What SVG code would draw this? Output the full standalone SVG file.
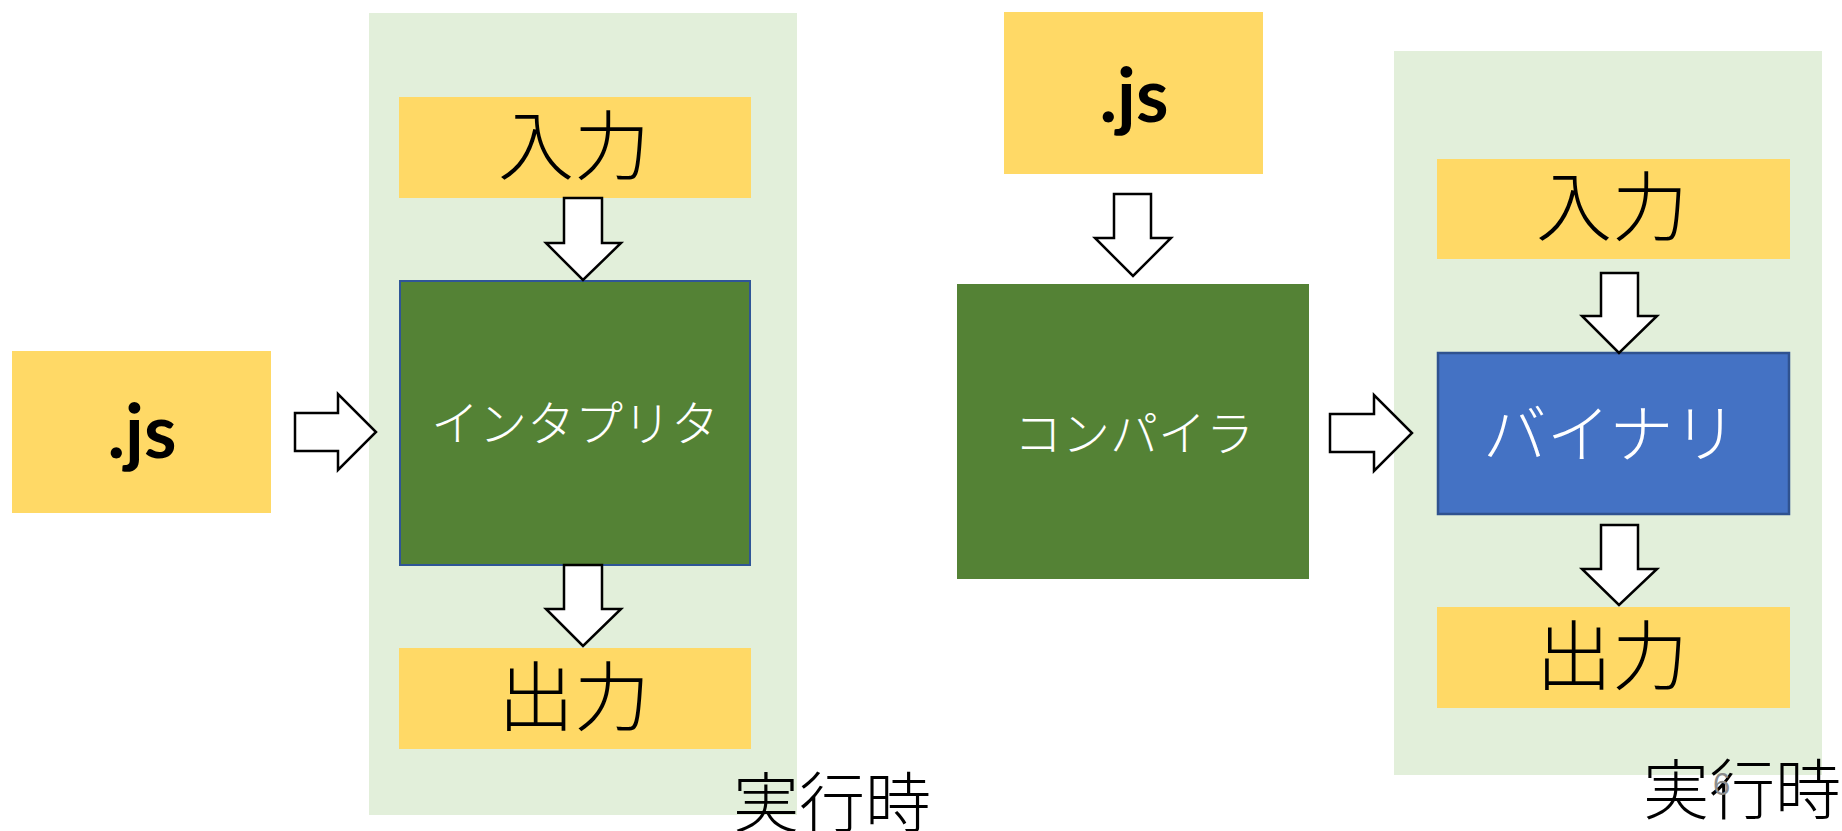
<svg xmlns="http://www.w3.org/2000/svg" width="1842" height="831" viewBox="0 0 1842 831">
<style>
.bg{fill:#E2EFDA}
.y{fill:#FFD966}
.g{fill:#548235}
.gi{fill:#548235;stroke:#2F5597;stroke-width:2}
.b{fill:#4472C4;stroke:#2F528F;stroke-width:2.5}
.arr{fill:#FFFFFF;stroke:#000000;stroke-width:2.5;stroke-linejoin:miter}
.jp{font-family:"Noto Sans CJK JP","Noto Sans CJK SC",sans-serif;font-weight:300;dominant-baseline:central;text-anchor:middle}
.js{font-family:"Lato","Noto Sans",sans-serif;font-weight:700;font-size:74px;text-anchor:middle;fill:#000}
.blk{fill:#000}
.wht{fill:#FFF}
</style>
<rect width="1842" height="831" fill="#FFFFFF"/>
<g id="runtime-left"><rect class="bg" x="369" y="13" width="428" height="802"/></g>
<g id="runtime-right"><rect class="bg" x="1394" y="51" width="428" height="724"/></g>
<g id="js-left"><rect class="y" x="12" y="351" width="259" height="162"/><text class="js" x="142" y="458">.js</text></g>
<g id="input-left"><rect class="y" x="399" y="97" width="352" height="101"/><text class="jp blk" x="574" y="141" font-size="76">入力</text></g>
<g id="interpreter"><rect class="gi" x="400" y="281" width="350" height="284"/><text class="jp wht" x="575" y="420" font-size="48">インタプリタ</text></g>
<g id="output-left"><rect class="y" x="399" y="648" width="352" height="101"/><text class="jp blk" x="574" y="692" font-size="76">出力</text></g>
<g id="label-left"><text class="jp blk" x="733" y="798" font-size="66" style="text-anchor:start">実行時</text></g>
<g id="js-right"><rect class="y" x="1004" y="12" width="259" height="162"/><text class="js" x="1134" y="122">.js</text></g>
<g id="compiler"><rect class="g" x="957" y="284" width="352" height="295"/><text class="jp wht" x="1134" y="430" font-size="48">コンパイラ</text></g>
<g id="input-right"><rect class="y" x="1437" y="159" width="353" height="100"/><text class="jp blk" x="1612" y="202" font-size="76">入力</text></g>
<g id="binary"><rect class="b" x="1438" y="353" width="351" height="161"/><text class="jp wht" x="1610" y="429" font-size="64">バイナリ</text></g>
<g id="output-right"><rect class="y" x="1437" y="607" width="353" height="101"/><text class="jp blk" x="1612" y="651" font-size="76">出力</text></g>
<g id="label-right"><text class="jp blk" x="1643" y="785" font-size="66" style="text-anchor:start">実行時</text></g>
<g id="slide-number"><text x="1713" y="795" font-family="Liberation Sans, sans-serif" font-size="31" fill="#8C8C8C">6</text></g>
<g id="connectors">
<polygon class="arr" points="295,413 338,413 338,394 376,432 338,470 338,451 295,451"/>
<polygon class="arr" points="564,198 602,198 602,243 621,243 583,280 546,243 564,243"/>
<polygon class="arr" points="564,565 602,565 602,609 621,609 583,646 546,609 564,609"/>
<polygon class="arr" points="1114,194 1151,194 1151,238 1171,238 1133,276 1095,238 1114,238"/>
<polygon class="arr" points="1330,414 1374,414 1374,395 1412,433 1374,471 1374,452 1330,452"/>
<polygon class="arr" points="1601,273 1638,273 1638,316 1657,316 1619,353 1582,316 1601,316"/>
<polygon class="arr" points="1601,525 1638,525 1638,569 1657,569 1619,605 1582,569 1601,569"/>
</g>
</svg>
